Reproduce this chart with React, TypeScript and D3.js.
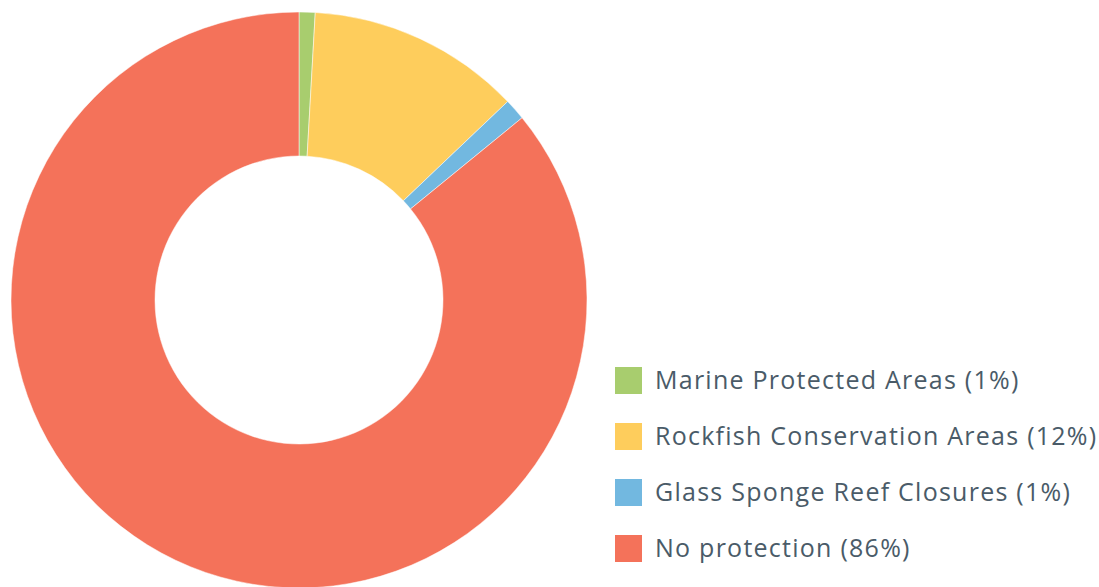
import React from "react";
import * as d3 from "d3";

const categories = [
  "Marine Protected Areas (1%)",
  "Rockfish Conservation Areas (12%)",
  "Glass Sponge Reef Closures (1%)",
  "No protection (86%)",
];
const values = [0.9, 12.0, 1.2, 85.9];
const colors = ["#a8cd6e", "#fecd5c", "#72b8e0", "#f4725a"];

export default function App() {
  const width = 1099;
  const height = 587;
  const cx = 299;
  const cy = 300;
  const outerR = 288;
  const innerR = 144;

  const pie = d3.pie<number>().sort(null).value((d) => d);
  const arcs = pie(values);
  const arc = d3.arc<d3.PieArcDatum<number>>().innerRadius(innerR).outerRadius(outerR);

  const legendX = 615;
  const legendY = 367;
  const rowGap = 56;
  const sq = 27;

  return (
    <svg width={width} height={height} style={{ position: "absolute", left: 0, top: 0 }}>
      <rect width={width} height={height} fill="#ffffff" />
      <g transform={`translate(${cx},${cy})`}>
        {arcs.map((a, i) => (
          <path key={i} d={arc(a) || ""} fill={colors[i]} stroke="#ffffff" strokeWidth={0.5} />
        ))}
      </g>
      <g fontFamily="'Open Sans', sans-serif" fontSize={25} fill="#4a5b68" letterSpacing={1.25}>
        {categories.map((c, i) => (
          <g key={c} transform={`translate(${legendX},${legendY + i * rowGap})`}>
            <rect width={sq} height={sq} fill={colors[i]} />
            <text x={40} y={sq / 2 - 1.5} dominantBaseline="central">
              {c}
            </text>
          </g>
        ))}
      </g>
    </svg>
  );
}
